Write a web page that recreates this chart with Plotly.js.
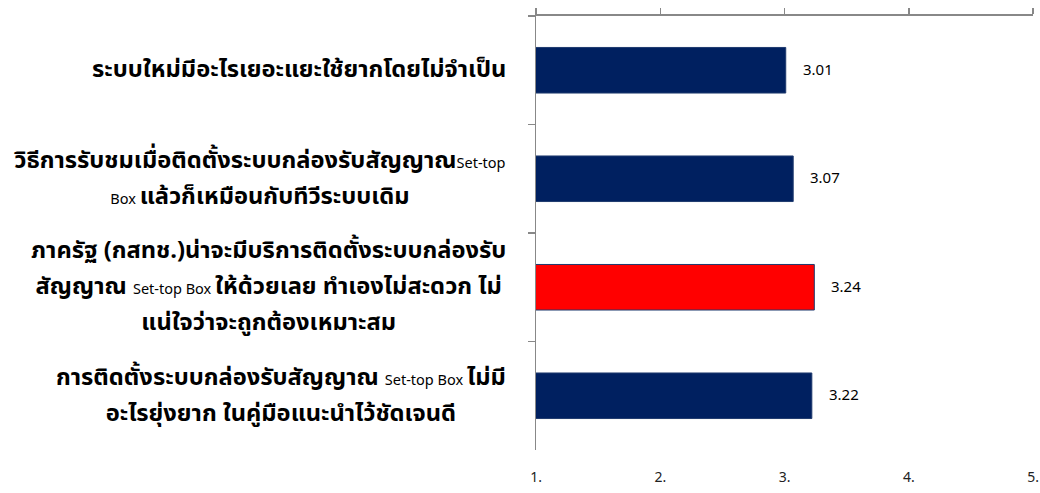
<!DOCTYPE html>
<html>
<head>
<meta charset="utf-8">
<script src="https://cdn.plot.ly/plotly-3.0.1.min.js"></script>
<style>html,body{margin:0;padding:0;background:#fff;}#chart{width:1040px;height:493px;}</style>
</head>
<body>
<div id="chart"></div>
<script>
// Category labels (Thai, with smaller "Set-top Box" parts), top to bottom
const categories = ["c1", "c2", "c3", "c4"];
const labelLines = [
  [["b", "ระบบใหม่มีอะไรเยอะแยะใช้ยากโดยไม่จำเป็น"]],
  [["b", "วิธีการรับชมเมื่อติดตั้งระบบกล่องรับสัญญาณ"], ["s", "Set-top"], ["br", ""], ["s", "Box "], ["b", "แล้วก็เหมือนกับทีวีระบบเดิม"]],
  [["b", "ภาครัฐ (กสทช.)น่าจะมีบริการติดตั้งระบบกล่องรับ"], ["br", ""], ["b", "สัญญาณ "], ["s", "Set-top Box "], ["b", "ให้ด้วยเลย ทำเองไม่สะดวก ไม่"], ["br", ""], ["b", "แน่ใจว่าจะถูกต้องเหมาะสม"]],
  [["b", "การติดตั้งระบบกล่องรับสัญญาณ "], ["s", "Set-top Box "], ["b", "ไม่มี"], ["br", ""], ["b", "อะไรยุ่งยาก ในคู่มือแนะนำไว้ชัดเจนดี"]]
];
const values = [3.01, 3.07, 3.24, 3.22];
const barColors = ["#002060", "#002060", "#FF0000", "#002060"];
const tickVals = [1, 2, 3, 4, 5];
const tickText = ["1.", "2.", "3.", "4.", "5."];

const thaiFont = "Tahoma, 'Noto Sans Thai', 'Noto Sans', sans-serif";

function buildLabel(parts) {
  return parts.map(p => {
    if (p[0] === "br") return "<br>";
    if (p[0] === "s") return '<span style="font-size:14.5px;font-weight:normal">' + p[1] + '</span>';
    return '<span style="font-size:23.7px;font-weight:bold">' + p[1] + '</span>';
  }).join("");
}

const trace = {
  type: "bar",
  orientation: "h",
  y: categories,
  x: values,
  base: 0,
  marker: { color: barColors, line: { color: "#1F3A6E", width: 1 } },
  hoverinfo: "none"
};
// invisible companion trace so the top axis (xaxis2) is drawn
const topAxisTrace = {
  type: "scatter", mode: "markers",
  x: values, y: categories, xaxis: "x2", yaxis: "y",
  marker: { opacity: 0, size: 1 }, hoverinfo: "none", showlegend: false
};

const annotations = [];
categories.forEach((c, i) => {
  annotations.push({
    xref: "paper", yref: "y", x: 0, y: c,
    xanchor: "right", yanchor: "middle", xshift: -28,
    align: "center", showarrow: false,
    text: buildLabel(labelLines[i]),
    font: { family: thaiFont, size: 27.5, color: "#000" }
  });
  annotations.push({
    xref: "x", yref: "y", x: values[i], y: c,
    xanchor: "left", yanchor: "middle", xshift: 15,
    showarrow: false, text: values[i].toFixed(2),
    font: { family: thaiFont, size: 15, color: "#000" }
  });
});

const layout = {
  width: 1040, height: 493,
  margin: { l: 536, r: 7, t: 16, b: 43, pad: 0 },
  paper_bgcolor: "#fff", plot_bgcolor: "#fff",
  showlegend: false,
  bargap: 0.58,
  xaxis: {
    range: [1, 5], side: "bottom",
    showline: false, showgrid: false, zeroline: false, ticks: "",
    tickvals: tickVals, ticktext: tickText,
    ticklabelstandoff: 17,
    tickfont: { family: thaiFont, size: 14, color: "#222" }
  },
  xaxis2: {
    range: [1, 5], overlaying: "x", side: "top", anchor: "y",
    showline: true, linecolor: "#888", linewidth: 2,
    ticks: "outside", ticklen: 6, tickcolor: "#888", tickwidth: 1.5,
    tickvals: tickVals, showticklabels: false,
    showgrid: false, zeroline: false
  },
  yaxis: {
    type: "category", autorange: "reversed",
    showline: true, linecolor: "#888", linewidth: 1.5,
    ticks: "outside", tickson: "boundaries", ticklen: 7, tickcolor: "#888", tickwidth: 1.5,
    showticklabels: false, showgrid: false, zeroline: false
  },
  annotations: annotations
};

Plotly.newPlot("chart", [trace, topAxisTrace], layout, { displayModeBar: false, staticPlot: true });
</script>
</body>
</html>
